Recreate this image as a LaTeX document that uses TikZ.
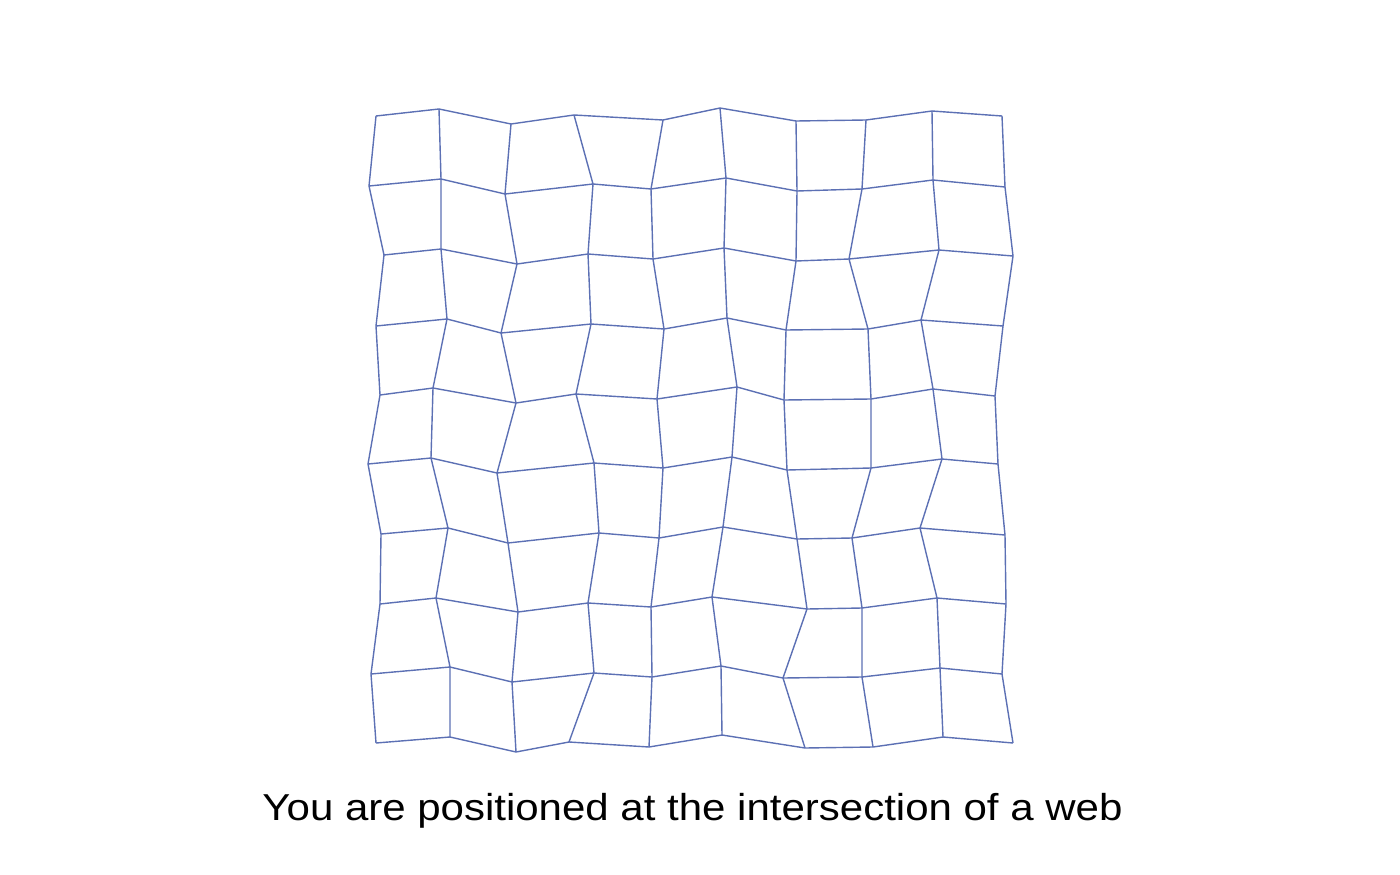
\documentclass[tikz,border=0pt]{standalone}
\usepackage{fontspec}
\setmainfont{Liberation Sans}
\definecolor{gridblue}{RGB}{92,112,180}
\begin{document}
\begin{tikzpicture}[x=1pt,y=-1pt,
  web/.style={draw=gridblue, line width=1.4pt, line join=round},
  caption/.style={font=\fontsize{37.5}{44}\selectfont, anchor=base, inner sep=0pt}]
\useasboundingbox (0,0) rectangle (1400,875);
\foreach \r/\row in {
 0/{376/116,439/109,511/124,574/115,663/120,720/108,796/121,866/120,932/111,1002/116},
 1/{369/186,441/179,505/194,593/184,651/189,726/178,797/191,862/189,933/180,1005/187},
 2/{384/255,441/249,517/264,588/254,653/259,724/248,796/261,849/259,939/250,1013/256},
 3/{376/326,447/319,501/333,591/324,664/329,727/318,786/330,868/329,921/320,1003/326},
 4/{380/395,433/388,516/403,576/394,657/399,737/387,784/400,871/399,933/389,995/396},
 5/{368/464,431/458,497/473,594/463,663/468,732/457,787/470,871/468,942/459,998/464},
 6/{381/534,448/528,508/543,599/533,659/538,723/527,797/539,852/538,920/528,1005/535},
 7/{380/604,436/598,518/612,588/603,651/607,712/597,807/609,862/608,937/598,1006/604},
 8/{371/674,450/667,512/682,594/673,652/677,721/666,783/678,862/677,940/668,1002/674},
 9/{376/743,450/737,516/752,569/742,649/747,722/735,805/748,873/747,943/737,1013/743}}
{
  \foreach \px/\py [count=\c from 0] in \row {
    \coordinate (v\r-\c) at (\px,\py);
  }
}
\foreach \r in {0,...,9} {
  \draw[web] (v\r-0) \foreach \c in {1,...,9} { -- (v\r-\c) };
}
\foreach \c in {0,...,9} {
  \draw[web] (v0-\c) \foreach \r in {1,...,9} { -- (v\r-\c) };
}
\node[caption] (cap) at (692.5,820) {\scalebox{1.12}[1]{You are positioned at the intersection of a web}};
\end{tikzpicture}
\end{document}
